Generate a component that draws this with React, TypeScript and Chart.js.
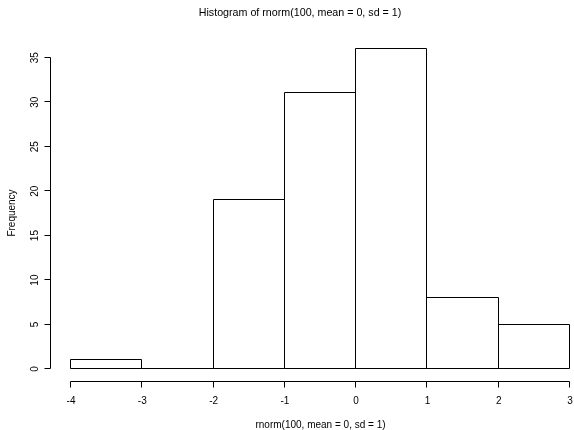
import { useEffect, useRef } from 'react';
import { Chart, registerables } from 'chart.js';

Chart.register(...registerables);

const binEdges = [-4, -3, -2, -1, 0, 1, 2, 3];
const counts = [1, 0, 19, 31, 36, 8, 5];
const yTicks = [0, 5, 10, 15, 20, 25, 30, 35];
const xTicks = [-4, -3, -2, -1, 0, 1, 2, 3];
const titleText = 'Histogram of rnorm(100, mean = 0, sd = 1)';
const xLabelText = 'rnorm(100, mean = 0, sd = 1)';
const yLabelText = 'Frequency';

const FONT = '"Liberation Sans", Arial, Helvetica, sans-serif';
const INK = '#000000';

const crisp = (v: number) => Math.round(v) - 0.5;

const rAxesPlugin = {
  id: 'rAxes',
  afterDatasetsDraw(chart: any) {
    // R-style rectangle outlines for the histogram bars (shared edges, 1px)
    const ctx = chart.ctx as CanvasRenderingContext2D;
    const meta = chart.getDatasetMeta(0);
    ctx.save();
    ctx.strokeStyle = INK;
    ctx.lineWidth = 1;
    ctx.beginPath();
    meta.data.forEach((bar: any) => {
      const { x, y, base, width } = bar.getProps(['x', 'y', 'base', 'width'], true);
      const l = crisp(x - width / 2);
      const r = crisp(x + width / 2);
      const t = crisp(y);
      const b = crisp(base);
      ctx.rect(l, t, r - l, b - t);
    });
    ctx.stroke();
    ctx.restore();
  },
  afterDraw(chart: any) {
    const ctx = chart.ctx as CanvasRenderingContext2D;
    const xs = chart.scales.x;
    const ys = chart.scales.y;
    ctx.save();
    ctx.strokeStyle = INK;
    ctx.fillStyle = INK;
    ctx.lineWidth = 1;

    // x axis (R style, offset below the plot)
    const y0 = crisp(ys.getPixelForValue(0));
    const axY = y0 + 13;
    ctx.beginPath();
    ctx.moveTo(crisp(xs.getPixelForValue(xTicks[0])), axY);
    ctx.lineTo(crisp(xs.getPixelForValue(xTicks[xTicks.length - 1])), axY);
    xTicks.forEach((t) => {
      const px = crisp(xs.getPixelForValue(t));
      ctx.moveTo(px, axY);
      ctx.lineTo(px, axY + 6);
    });
    ctx.stroke();
    ctx.font = `10px ${FONT}`;
    ctx.textAlign = 'center';
    ctx.textBaseline = 'middle';
    xTicks.forEach((t) => {
      ctx.fillText(String(t), xs.getPixelForValue(t), axY + 20);
    });

    // y axis
    const axX = 50.5;
    const yTop = crisp(ys.getPixelForValue(yTicks[yTicks.length - 1]));
    const yBot = crisp(ys.getPixelForValue(yTicks[0]));
    ctx.beginPath();
    ctx.moveTo(axX, yTop);
    ctx.lineTo(axX, yBot);
    yTicks.forEach((t) => {
      const py = crisp(ys.getPixelForValue(t));
      ctx.moveTo(axX, py);
      ctx.lineTo(axX - 6, py);
    });
    ctx.stroke();
    yTicks.forEach((t) => {
      const py = ys.getPixelForValue(t);
      ctx.save();
      ctx.translate(35, py);
      ctx.rotate(-Math.PI / 2);
      ctx.fillText(String(t), 0, 0);
      ctx.restore();
    });

    // axis titles
    ctx.fillText(xLabelText, (xs.left + xs.right) / 2, 425);
    ctx.save();
    ctx.translate(12, (yTop + yBot) / 2);
    ctx.rotate(-Math.PI / 2);
    ctx.fillText(yLabelText, 0, 0);
    ctx.restore();

    // main title
    ctx.font = `10.7px ${FONT}`;
    ctx.fillText(titleText, 300, 13);
    ctx.restore();
  },
};

export default function App() {
  const canvasRef = useRef<HTMLCanvasElement | null>(null);

  useEffect(() => {
    const canvas = canvasRef.current;
    if (!canvas) return;
    const data = counts.map((c, i) => ({ x: (binEdges[i] + binEdges[i + 1]) / 2, y: c }));
    const chart = new Chart(canvas, {
      type: 'bar',
      data: {
        datasets: [
          {
            data: data as any,
            backgroundColor: '#ffffff',
            borderWidth: 0,
            inflateAmount: 0,
            barPercentage: 1,
            categoryPercentage: 1,
          } as any,
        ],
      },
      options: {
        responsive: false,
        animation: false,
        layout: { padding: { left: 71, right: 4, top: 40, bottom: 61 } },
        plugins: {
          legend: { display: false },
          tooltip: { enabled: false },
          title: { display: false },
        },
        scales: {
          x: {
            type: 'linear',
            min: binEdges[0],
            max: binEdges[binEdges.length - 1],
            offset: false,
            grid: { offset: false },
            display: false,
          },
          y: { type: 'linear', min: 0, max: 37, display: false },
        },
      },
      plugins: [rAxesPlugin],
    });
    return () => chart.destroy();
  }, []);

  return (
    <div style={{ position: 'absolute', left: 0, top: 0, width: 574, height: 430, background: '#fff' }}>
      <canvas ref={canvasRef} width={574} height={430} />
    </div>
  );
}
